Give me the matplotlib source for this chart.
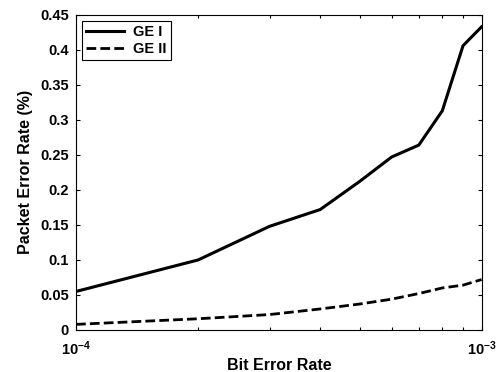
import matplotlib
matplotlib.use("Agg")
import matplotlib.pyplot as plt
from matplotlib.ticker import LogLocator, FixedLocator, NullFormatter

plt.rcParams['font.family'] = ['Liberation Sans', 'DejaVu Sans']
plt.rcParams['font.weight'] = 'bold'

ber = [1e-4, 2e-4, 3e-4, 4e-4, 5e-4, 6e-4, 7e-4, 8e-4, 9e-4, 1e-3]
ge1 = [0.055, 0.100, 0.148, 0.172, 0.212, 0.247, 0.264, 0.313, 0.406, 0.433]
ge2 = [0.008, 0.016, 0.022, 0.030, 0.037, 0.044, 0.052, 0.060, 0.064, 0.072]
yticks = [0, 0.05, 0.1, 0.15, 0.2, 0.25, 0.3, 0.35, 0.4, 0.45]
ytick_labels = ['0', '0.05', '0.1', '0.15', '0.2', '0.25', '0.3', '0.35', '0.4', '0.45']

fig = plt.figure(figsize=(4.97, 3.72), dpi=100)
ax = fig.add_axes([0.153, 0.113, 0.816, 0.847])
ax.plot(ber, ge1, color='black', lw=2.2, ls='-', label='GE I')
ax.plot(ber, ge2, color='black', lw=2.0, ls=(0, (3.5, 1.5)), label='GE II')
ax.set_xscale('log')
ax.set_xlim(1e-4, 1e-3)
ax.set_ylim(0, 0.45)
ax.set_yticks(yticks)
ax.set_yticklabels(ytick_labels)
ax.xaxis.set_major_locator(FixedLocator([1e-4, 1e-3]))
ax.xaxis.set_minor_locator(LogLocator(base=10, subs=range(2, 10)))
ax.xaxis.set_minor_formatter(NullFormatter())
ax.tick_params(which='both', direction='in', top=True, right=True, labelsize=10.5, width=0.8)
ax.tick_params(which='major', length=3)
ax.tick_params(which='minor', length=2)
ax.tick_params(axis='x', pad=7)
ax.tick_params(axis='y', pad=5)
for lbl in ax.get_xticklabels() + ax.get_yticklabels():
    lbl.set_fontweight('bold')
for s in ax.spines.values():
    s.set_linewidth(0.8)
ax.set_xlabel('Bit Error Rate', fontsize=11.5, fontweight='bold', labelpad=0)
ax.set_ylabel('Packet Error Rate (%)', fontsize=11.5, fontweight='bold', labelpad=5)
leg = ax.legend(loc='upper left', fancybox=False, edgecolor='black', framealpha=1,
                prop={'weight': 'bold', 'size': 10.5}, handlelength=2.6,
                borderaxespad=0.4, borderpad=0.3, labelspacing=0.2, handletextpad=0.6)
leg.get_frame().set_linewidth(0.8)
fig.savefig('out.png', dpi=100)
